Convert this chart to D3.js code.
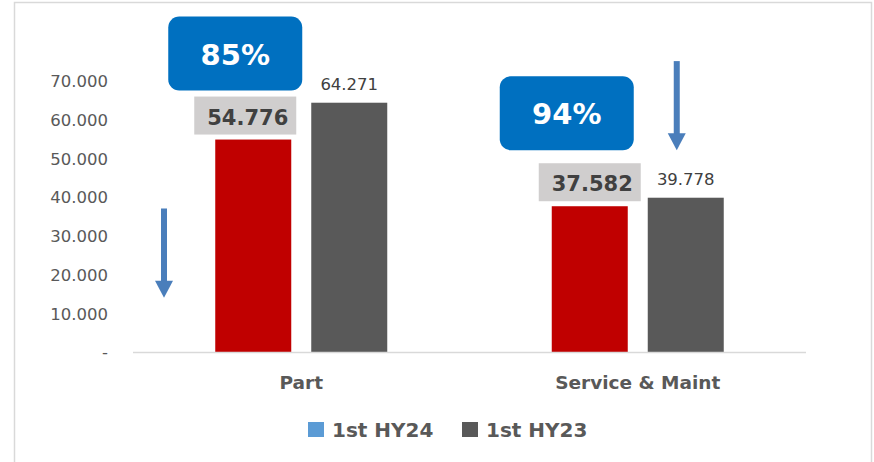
<!DOCTYPE html>
<html>
<head>
<meta charset="utf-8">
<script src="https://cdn.jsdelivr.net/npm/d3@7"></script>
<style>
  html, body { margin: 0; padding: 0; background: #fff; }
  svg { display: block; font-family: "DejaVu Sans", sans-serif; }
</style>
</head>
<body>
<div id="chart"></div>
<script>
var categories = ['Part', 'Service & Maint'];
var seriesNames = ['1st HY24', '1st HY23'];
var hy24 = [54776, 37582];
var hy23 = [64271, 39778];
var ratioLabels = ['85%', '94%'];
var yTicks = [0, 10000, 20000, 30000, 40000, 50000, 60000, 70000];

var width = 874, height = 462;

var locale = d3.formatLocale({decimal: ',', thousands: '.', grouping: [3], currency: ['', '']});
var fmt = locale.format(',');

var svg = d3.select('#chart').append('svg')
  .attr('width', width)
  .attr('height', height);

// frame
svg.append('rect')
  .attr('x', 14.5).attr('y', 2.5)
  .attr('width', 857).attr('height', 470)
  .attr('fill', 'none')
  .attr('stroke', '#d9d9d9')
  .attr('stroke-width', 1.5);

// scales
var x = d3.scaleBand()
  .domain(categories)
  .range([133, 806]);

var bw = x.bandwidth();
var x1 = d3.scaleBand()
  .domain(seriesNames)
  .range([bw / 2 - 86, bw / 2 + 86])
  .paddingInner(0.2083);

var y = d3.scaleLinear()
  .domain([0, 70000])
  .range([352, 80.5]);

var colors = {'1st HY24': '#c00000', '1st HY23': '#595959'};
var legendColors = {'1st HY24': '#5b9bd5', '1st HY23': '#595959'};

// y axis labels
var yAxis = d3.axisLeft(y)
  .tickValues(yTicks)
  .tickSize(0)
  .tickPadding(0)
  .tickFormat(function(d){ return d === 0 ? '-' : fmt(d); });

var gy = svg.append('g')
  .attr('transform', 'translate(108,0)')
  .call(yAxis);
gy.select('.domain').remove();
gy.selectAll('text')
  .attr('fill', '#595959')
  .attr('dy', '0.36em')
  .style('font-size', '16.5px')
  .style('font-family', '"DejaVu Sans", sans-serif');

// bars
var rows = categories.map(function(c, i){
  return {cat: c, i: i, values: [
    {key: seriesNames[0], value: hy24[i]},
    {key: seriesNames[1], value: hy23[i]}
  ]};
});

var groups = svg.append('g').selectAll('.grp')
  .data(rows)
  .enter().append('g')
  .attr('class', 'grp')
  .attr('transform', function(d){ return 'translate(' + x(d.cat) + ',0)'; });

groups.selectAll('rect')
  .data(function(d){ return d.values; })
  .enter().append('rect')
  .attr('x', function(d){ return x1(d.key); })
  .attr('y', function(d){ return y(d.value); })
  .attr('width', x1.bandwidth())
  .attr('height', function(d){ return y(0) - y(d.value); })
  .attr('fill', function(d){ return colors[d.key]; });

// x axis line
svg.append('line')
  .attr('x1', 133).attr('x2', 806)
  .attr('y1', y(0) + 0.5).attr('y2', y(0) + 0.5)
  .attr('stroke', '#d9d9d9')
  .attr('stroke-width', 1.5);

// category labels
svg.append('g').selectAll('text')
  .data(categories)
  .enter().append('text')
  .attr('x', function(d){ return x(d) + bw / 2; })
  .attr('y', 389)
  .attr('text-anchor', 'middle')
  .attr('fill', '#595959')
  .style('font-size', '18.5px')
  .style('font-weight', 'bold')
  .text(function(d){ return d; });

// HY23 value labels (plain)
groups.append('text')
  .attr('x', x1(seriesNames[1]) + x1.bandwidth() / 2)
  .attr('y', function(d){ return y(d.values[1].value) - 13; })
  .attr('text-anchor', 'middle')
  .attr('fill', '#404040')
  .style('font-size', '16.5px')
  .text(function(d){ return fmt(d.values[1].value); });

// HY24 value labels in gray boxes
var labelShift = [-8, 0];
var boxW = 102, boxH = 38;
groups.append('rect')
  .attr('x', function(d){ return x1(seriesNames[0]) + x1.bandwidth() / 2 - boxW / 2 + labelShift[d.i]; })
  .attr('y', function(d){ return y(d.values[0].value) - 5 - boxH; })
  .attr('width', boxW)
  .attr('height', boxH)
  .attr('fill', '#d0cece');

groups.append('text')
  .attr('x', function(d){ return x1(seriesNames[0]) + x1.bandwidth() / 2 + boxW / 2 - 8 + labelShift[d.i]; })
  .attr('y', function(d){ return y(d.values[0].value) - 15; })
  .attr('text-anchor', 'end')
  .attr('fill', '#404040')
  .style('font-size', '21px')
  .style('font-weight', 'bold')
  .text(function(d){ return fmt(d.values[0].value); });

// ratio boxes
var rW = 134, rH = 74;
var rGap = [6, 13];
var rShift = [-18, -23];
var rb = groups.append('g')
  .attr('transform', function(d){
    var cx = x1(seriesNames[0]) + x1.bandwidth() / 2 + rShift[d.i];
    var top = y(d.values[0].value) - 5 - boxH - rGap[d.i] - rH;
    return 'translate(' + (cx - rW / 2) + ',' + top + ')';
  });

rb.append('rect')
  .attr('width', rW)
  .attr('height', rH)
  .attr('rx', 11)
  .attr('fill', '#0070c0');

rb.append('text')
  .attr('x', rW / 2)
  .attr('y', rH / 2 + 11)
  .attr('text-anchor', 'middle')
  .attr('fill', '#fff')
  .style('font-size', '29px')
  .style('font-weight', 'bold')
  .text(function(d){ return ratioLabels[d.i]; });

// down arrows
function arrow(cx, v0, v1) {
  var y0 = y(v0), y1 = y(v1), head = 17;
  var g = svg.append('g').attr('fill', '#4a7ebb');
  g.append('rect')
    .attr('x', cx - 3).attr('y', y0)
    .attr('width', 6).attr('height', y1 - y0 - head + 1);
  g.append('path')
    .attr('d', 'M' + (cx - 9) + ',' + (y1 - head) + 'L' + (cx + 9) + ',' + (y1 - head) + 'L' + cx + ',' + y1 + 'Z');
}
arrow(x.range()[0] + 31, 37000, 14000);
arrow(x(categories[1]) + bw / 2 + 39, 75000, 52000);

// legend
var legend = svg.append('g')
  .attr('transform', 'translate(308,422)');

var li = legend.selectAll('g')
  .data(seriesNames)
  .enter().append('g')
  .attr('transform', function(d, i){ return 'translate(' + (i * 154) + ',0)'; });

li.append('rect')
  .attr('width', 16).attr('height', 15)
  .attr('fill', function(d){ return legendColors[d]; });

li.append('text')
  .attr('x', 24)
  .attr('y', 15)
  .attr('fill', '#595959')
  .style('font-size', '20px')
  .style('font-weight', 'bold')
  .text(function(d){ return d; });
</script>
</body>
</html>
